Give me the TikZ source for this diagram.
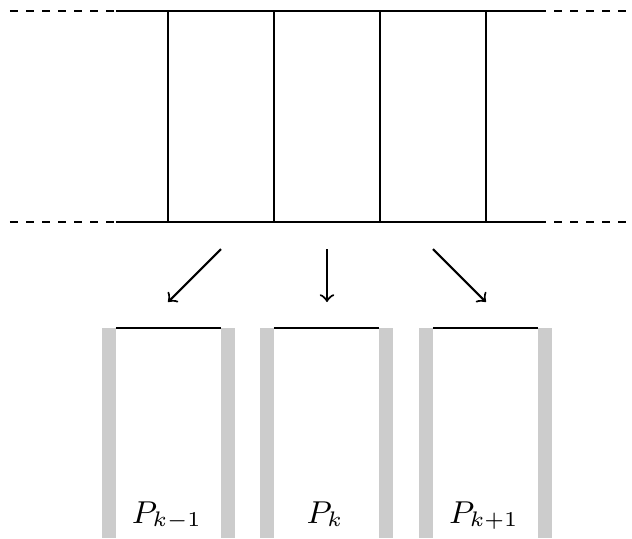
\documentclass[tikz,border=0pt]{standalone}
\usetikzlibrary{positioning,arrows}

\begin{document}
\begin{tikzpicture}[
		x=0.01cm,
		y=-0.01cm,
		wall/.style={
			line width=0.6pt,
		},
		openend/.style={
			wall,
			dash pattern=on 2.28pt off 2.28pt,
		},
		bar/.style={
			fill=black!20,
			draw=none,
		},
		label/.style={
			anchor=base,
			inner sep=0pt,
			font=\fontsize{8.6}{10}\selectfont,
		},
		>=to
		]
		\useasboundingbox (0,0) rectangle (632,538);
		% the strip
		\coordinate (tl) at (116,11);
		\coordinate (tr) at (538,11);
		\coordinate (bl) at (116,222);
		\coordinate (br) at (538,222);
		\coordinate (tl0) at (10,11);
		\coordinate (tr0) at (628,11);
		\coordinate (bl0) at (10,222);
		\coordinate (br0) at (628,222);
		\draw[wall] (tl) -- (tr);
		\draw[wall] (bl) -- (br);
		\draw[openend] (tl0) -- (tl);
		\draw[openend] (tr) -- (tr0);
		\draw[openend] (bl0) -- (bl);
		\draw[openend] (br) -- (br0);
		\foreach \xv [count=\i] in {168,274,380,486}
		{
			\coordinate (up-\i) at (\xv,11);
			\coordinate (dn-\i) at (\xv,222);
			\draw[wall] (up-\i) -- (dn-\i);
		}
		% the pieces
		\foreach \xl/\sub [count=\i] in {116/{k-1},274/{k},433/{k+1}}
		{
			\fill[bar] (\xl-14,328) rectangle (\xl,538);
			\fill[bar] (\xl+105,328) rectangle (\xl+119,538);
			\coordinate (lid-\i) at (\xl,328);
			\coordinate (lidr-\i) at (\xl+105,328);
			\draw[wall] (lid-\i) -- (lidr-\i);
			\node[label] (name-\i) at (\xl+51,523) {$P_{\sub}$};
		}
		\foreach \xa/\xb [count=\i] in {221/168,327/327,433/486}
		{
			\coordinate (from-\i) at (\xa,249);
			\coordinate (to-\i) at (\xb,302);
			\draw[wall,->] (from-\i) -- (to-\i);
		}
\end{tikzpicture}
\end{document}
